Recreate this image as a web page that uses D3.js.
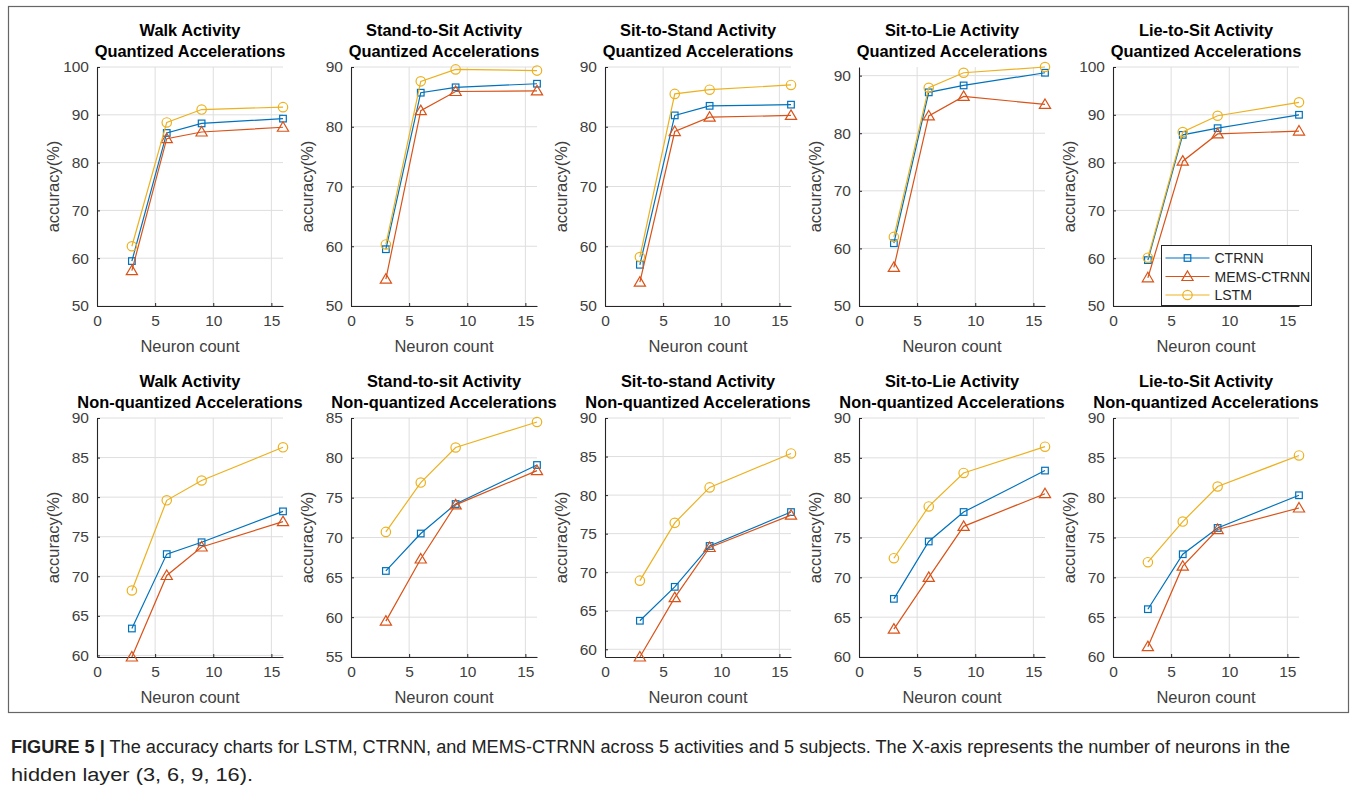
<!DOCTYPE html>
<html>
<head>
<meta charset="utf-8">
<script src="https://cdn.jsdelivr.net/npm/d3@7"></script>
<style>
  body { margin: 0; background: #fff; }
  svg { display: block; font-family: "Liberation Sans", Arial, Helvetica, sans-serif; }
</style>
</head>
<body>
<script>
// neuron counts on the x axis
var neurons = [3, 6, 9, 16];
var xTicks = [0, 5, 10, 15];
var seriesNames = ["CTRNN", "MEMS-CTRNN", "LSTM"];

var titlesQuant = ["Walk Activity", "Stand-to-Sit Activity", "Sit-to-Stand Activity", "Sit-to-Lie Activity", "Lie-to-Sit Activity"];
var titlesNonQuant = ["Walk Activity", "Stand-to-sit Activity", "Sit-to-stand Activity", "Sit-to-Lie Activity", "Lie-to-Sit Activity"];

// quantized accelerations, one row per activity (values at 3, 6, 9, 16 neurons)
var ctrnnQuant = [[59.4, 86.2, 88.2, 89.2], [59.5, 85.7, 86.6, 87.2], [56.9, 81.9, 83.5, 83.7], [60.9, 87.1, 88.3, 90.5], [59.6, 85.8, 87.2, 90.0]];
var memsQuant  = [[57.4, 85.0, 86.4, 87.4], [54.5, 82.7, 85.9, 86.0], [54.0, 79.2, 81.6, 81.9], [56.7, 83.0, 86.4, 85.0], [55.9, 80.3, 86.0, 86.6]];
var lstmQuant  = [[62.5, 88.4, 91.1, 91.6], [60.3, 87.6, 89.6, 89.4], [58.2, 85.5, 86.2, 87.0], [62.0, 87.9, 90.5, 91.5], [60.1, 86.4, 89.8, 92.6]];

// non-quantized accelerations
var ctrnnNonQuant = [[63.4, 72.8, 74.3, 78.2], [65.8, 70.5, 74.2, 79.1], [63.7, 68.1, 73.4, 77.8], [67.3, 74.5, 78.2, 83.4], [66.0, 72.9, 76.2, 80.3]];
var memsNonQuant  = [[59.8, 70.1, 73.7, 76.9], [59.5, 67.3, 74.1, 78.4], [59.0, 66.7, 73.2, 77.4], [63.5, 70.0, 76.4, 80.5], [61.3, 71.4, 76.0, 78.7]];
var lstmNonQuant  = [[68.2, 79.6, 82.1, 86.3], [70.7, 76.9, 81.3, 84.5], [68.9, 76.4, 81.0, 85.4], [72.4, 78.9, 83.1, 86.4], [71.9, 77.0, 81.4, 85.3]];

// y limits of each axes
var yLimQuant = [[50, 100], [50, 90], [50, 90], [50, 91.5], [50, 100]];
var yLimNonQuant = [[59.8, 90], [55, 85], [59, 90], [60, 90], [60, 90]];

var captionBold = "FIGURE 5 |";
var captionLine1 = " The accuracy charts for LSTM, CTRNN, and MEMS-CTRNN across 5 activities and 5 subjects. The X-axis represents the number of neurons in the";
var captionLine2 = "hidden layer (3, 6, 9, 16).";

var W = 1357, H = 796;
var colors = ["#0072BD", "#D95319", "#EDB120"];
var markers = ["square", "triangle", "circle"];
var axisColor = "#262626";
var textColor = "#404040";

var svg = d3.select("body").append("svg")
    .attr("width", W)
    .attr("height", H);

svg.append("rect").attr("width", W).attr("height", H).attr("fill", "#fff");

// figure frame
svg.append("rect")
    .attr("x", 8.5).attr("y", 6.5)
    .attr("width", 1340).attr("height", 706)
    .attr("fill", "none")
    .attr("stroke", "#666")
    .attr("stroke-width", 1.2);

var panelLeft = [97, 351, 605, 859, 1113];
var panelWidth = 186;
var rows = [
  { top: 67, bottom: 306, sub: "Quantized Accelerations", titles: titlesQuant, lims: yLimQuant, step: 10,
    data: [ctrnnQuant, memsQuant, lstmQuant] },
  { top: 418, bottom: 657, sub: "Non-quantized Accelerations", titles: titlesNonQuant, lims: yLimNonQuant, step: 5,
    data: [ctrnnNonQuant, memsNonQuant, lstmNonQuant] }
];

function drawMarker(sel, type, color) {
  if (type === "square") {
    sel.append("rect").attr("x", -3.3).attr("y", -3.3).attr("width", 6.6).attr("height", 6.6)
      .attr("fill", "none").attr("stroke", color).attr("stroke-width", 1.2);
  } else if (type === "triangle") {
    sel.append("path").attr("d", "M0,-5.5L5.6,4L-5.6,4Z")
      .attr("fill", "none").attr("stroke", color).attr("stroke-width", 1.2);
  } else {
    sel.append("circle").attr("r", 4.7)
      .attr("fill", "none").attr("stroke", color).attr("stroke-width", 1.2);
  }
}

rows.forEach(function (row, r) {
  for (var i = 0; i < 5; i++) {
    var x0 = panelLeft[i];
    var x = d3.scaleLinear().domain([0, 16]).range([x0, x0 + panelWidth]);
    var y = d3.scaleLinear().domain(row.lims[i]).range([row.bottom, row.top]);
    var g = svg.append("g");

    var yTicks = d3.range(Math.ceil(row.lims[i][0] / row.step) * row.step, row.lims[i][1] + 1e-9, row.step);

    // grid
    g.selectAll(".gx").data(xTicks.filter(function (d) { return d > 0; })).enter().append("line")
      .attr("x1", function (d) { return x(d); }).attr("x2", function (d) { return x(d); })
      .attr("y1", row.top).attr("y2", row.bottom)
      .attr("stroke", "#dedede").attr("stroke-width", 1);
    g.selectAll(".gy").data(yTicks).enter().append("line")
      .attr("x1", x0).attr("x2", x0 + panelWidth)
      .attr("y1", function (d) { return y(d); }).attr("y2", function (d) { return y(d); })
      .attr("stroke", "#dedede").attr("stroke-width", 1);

    // axes
    var xAxis = d3.axisBottom(x).tickValues(xTicks).tickSizeInner(-3).tickSizeOuter(0).tickPadding(9);
    var gx = g.append("g").attr("transform", "translate(0," + row.bottom + ")").call(xAxis);
    var yAxis = d3.axisLeft(y).tickValues(yTicks).tickSizeInner(-3).tickSizeOuter(0).tickPadding(8);
    var gy = g.append("g").attr("transform", "translate(" + x0 + ",0)").call(yAxis);
    [gx, gy].forEach(function (a) {
      a.select(".domain").attr("stroke", axisColor).attr("stroke-width", 1.1);
      a.selectAll(".tick line").attr("stroke", axisColor);
      a.selectAll(".tick text").attr("fill", textColor).style("font-size", "15.5px")
        .style("font-family", "'Liberation Sans', Arial, sans-serif");
    });

    // labels
    g.append("text").attr("x", x0 + panelWidth / 2).attr("y", row.bottom + 46)
      .attr("text-anchor", "middle").attr("fill", textColor).style("font-size", "16.5px")
      .text("Neuron count");
    g.append("text")
      .attr("transform", "translate(" + (x0 - 38) + "," + ((row.top + row.bottom) / 2) + ") rotate(-90)")
      .attr("text-anchor", "middle").attr("fill", textColor).style("font-size", "16.5px")
      .text("accuracy(%)");

    // titles
    g.append("text").attr("x", x0 + panelWidth / 2).attr("y", row.top - 31)
      .attr("text-anchor", "middle").attr("fill", "#000").style("font-size", "16.4px").style("font-weight", "bold")
      .text(row.titles[i]);
    g.append("text").attr("x", x0 + panelWidth / 2).attr("y", row.top - 10)
      .attr("text-anchor", "middle").attr("fill", "#000").style("font-size", "16.4px").style("font-weight", "bold")
      .text(row.sub);

    // series
    var line = d3.line()
      .x(function (d, k) { return x(neurons[k]); })
      .y(function (d) { return y(d); });
    row.data.forEach(function (series, s) {
      var vals = series[i];
      g.append("path").datum(vals)
        .attr("d", line)
        .attr("fill", "none").attr("stroke", colors[s]).attr("stroke-width", 1.2);
      vals.forEach(function (v, k) {
        var m = g.append("g").attr("transform", "translate(" + x(neurons[k]) + "," + y(v) + ")");
        drawMarker(m, markers[s], colors[s]);
      });
    });
  }
});

// legend in the top-right axes
var legend = svg.append("g").attr("transform", "translate(1161.5,245.5)");
legend.append("rect").attr("width", 150).attr("height", 60)
  .attr("fill", "#fff").attr("stroke", axisColor).attr("stroke-width", 1);
seriesNames.forEach(function (name, s) {
  var ly = 12.5 + s * 18.5;
  legend.append("line").attr("x1", 4).attr("x2", 48).attr("y1", ly).attr("y2", ly)
    .attr("stroke", colors[s]).attr("stroke-width", 1.2);
  var m = legend.append("g").attr("transform", "translate(26," + ly + ")");
  drawMarker(m, markers[s], colors[s]);
  legend.append("text").attr("x", 53).attr("y", ly + 5)
    .attr("fill", axisColor).style("font-size", "14px").text(name);
});

// caption (narrow face squeezed to the printed width)
var cap = svg.append("text").attr("x", 11).attr("y", 753)
  .attr("fill", "#222").style("font-size", "18px")
  .style("font-family", "'Liberation Sans Narrow', 'Liberation Sans', Arial, sans-serif")
  .attr("textLength", 1279).attr("lengthAdjust", "spacingAndGlyphs");
cap.append("tspan").style("font-weight", "bold").text(captionBold);
cap.append("tspan").text(captionLine1);
svg.append("text").attr("x", 11).attr("y", 781)
  .attr("fill", "#222").style("font-size", "18px")
  .style("font-family", "'Liberation Sans Narrow', 'Liberation Sans', Arial, sans-serif")
  .attr("textLength", 242).attr("lengthAdjust", "spacingAndGlyphs")
  .text(captionLine2);
</script>
</body>
</html>
